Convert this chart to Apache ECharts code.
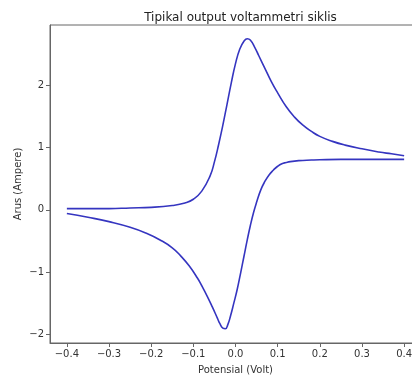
<!DOCTYPE html>
<html>
<head>
<meta charset="utf-8">
<script src="https://cdn.jsdelivr.net/npm/echarts@6/dist/echarts.min.js"></script>
<style>html,body{margin:0;padding:0;background:#fff;}#c{width:412px;height:379px;}</style>
</head>
<body>
<div id="c"></div>
<script>
// Forward scan (upper branch)
var fwdV = [-0.40,-0.35,-0.30,-0.25,-0.20,-0.15,-0.12,-0.10,-0.08,-0.06,-0.05,-0.04,-0.03,-0.02,-0.01,0.00,0.01,0.02,0.028,0.035,0.045,0.055,0.07,0.085,0.10,0.12,0.14,0.16,0.18,0.20,0.23,0.26,0.30,0.34,0.37,0.40];
var fwdI = [0.02,0.02,0.02,0.03,0.04,0.07,0.11,0.17,0.30,0.55,0.77,1.05,1.36,1.70,2.04,2.35,2.58,2.71,2.75,2.73,2.62,2.48,2.27,2.06,1.88,1.66,1.49,1.36,1.26,1.18,1.10,1.04,0.98,0.93,0.90,0.87];
// Reverse scan (lower branch)
var revV = [0.40,0.35,0.30,0.25,0.20,0.18,0.15,0.13,0.12,0.11,0.10,0.09,0.08,0.07,0.06,0.05,0.043,0.035,0.028,0.02,0.012,0.004,-0.004,-0.012,-0.018,-0.024,-0.030,-0.037,-0.043,-0.055,-0.067,-0.08,-0.09,-0.11,-0.13,-0.15,-0.18,-0.21,-0.25,-0.30,-0.35,-0.40];
var revI = [0.81,0.81,0.81,0.81,0.805,0.80,0.79,0.775,0.76,0.74,0.70,0.64,0.565,0.46,0.32,0.12,-0.04,-0.26,-0.48,-0.75,-1.02,-1.28,-1.50,-1.71,-1.84,-1.91,-1.90,-1.83,-1.74,-1.56,-1.39,-1.22,-1.10,-0.90,-0.74,-0.61,-0.48,-0.38,-0.28,-0.19,-0.12,-0.06];
// Tick labels
var xTicks = [-0.4,-0.3,-0.2,-0.1,0.0,0.1,0.2,0.3,0.4];
var yTicks = [-2,-1,0,1,2];

function zip(a,b){return a.map(function(v,i){return [v,b[i]];});}
function minus(s){return String(s).replace('-', '\u2212');}

var chart = echarts.init(document.getElementById('c'), null, {renderer:'canvas'});
var txt = '#333';
var font = 'DejaVu Sans';
chart.setOption({
  animation:false,
  backgroundColor:'#fff',
  title:{text:'Tipikal output voltammetri siklis', left:235.5, top:7, textAlign:'center',
    textStyle:{fontFamily:font, fontSize:12, fontWeight:'normal', color:'#222'}},
  grid:{left:50, top:25, width:371, bottom:36, outerBoundsMode:'none', containLabel:false,
    show:true, borderColor:'#666', borderWidth:1, backgroundColor:'transparent'},
  xAxis:{type:'value', min:-0.44, max:0.44,
    name:'Potensial (Volt)', nameLocation:'middle', nameGap:22, nameMoveOverlap:false,
    nameTextStyle:{fontFamily:font, fontSize:10, color:txt},
    axisLine:{show:true, onZero:false, lineStyle:{color:'#666'}},
    axisTick:{show:true, length:4, customValues:xTicks, lineStyle:{color:'#666'}},
    axisLabel:{fontFamily:font, fontSize:10, color:txt, margin:6, customValues:xTicks,
      formatter:function(v){return minus(v.toFixed(1));}},
    splitLine:{show:false}},
  yAxis:{type:'value', min:-2.14, max:2.97,
    name:'Arus (Ampere)', nameLocation:'middle', nameGap:27, nameRotate:90, nameMoveOverlap:false,
    nameTextStyle:{fontFamily:font, fontSize:10, color:txt},
    axisLine:{show:true, onZero:false, lineStyle:{color:'#666'}},
    axisTick:{show:true, length:4, customValues:yTicks, lineStyle:{color:'#666'}},
    axisLabel:{fontFamily:font, fontSize:10, color:txt, margin:6, customValues:yTicks,
      formatter:function(v){return minus(String(Math.round(v)));}},
    splitLine:{show:false}},
  series:[
    {type:'line', data:zip(fwdV,fwdI), showSymbol:false, smooth:0.5,
      lineStyle:{color:'#3535c0', width:1.6}},
    {type:'line', data:zip(revV,revI), showSymbol:false, smooth:0.5,
      lineStyle:{color:'#3535c0', width:1.6}}
  ]
});
</script>
</body>
</html>
